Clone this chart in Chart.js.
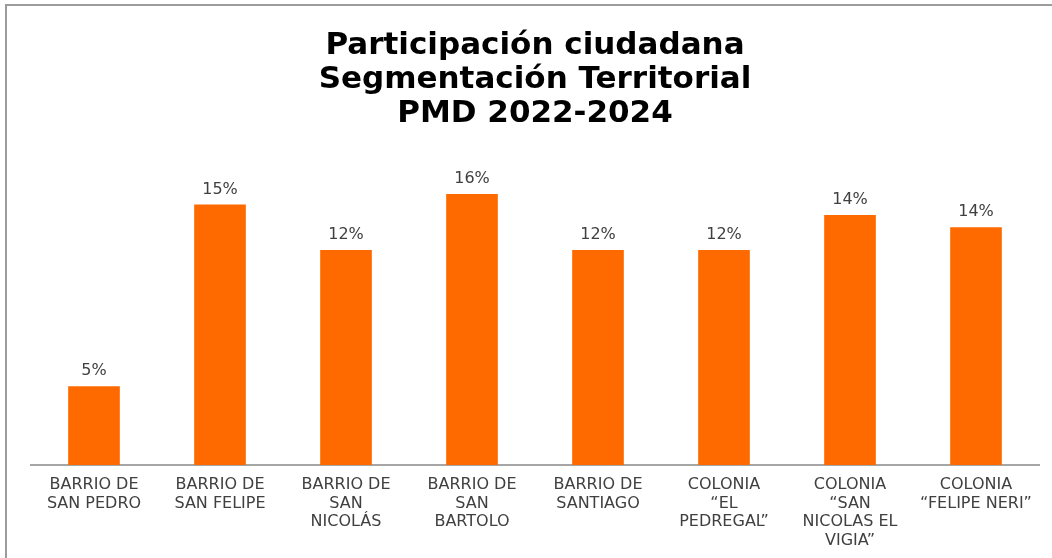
<!DOCTYPE html>
<html>
<head>
<meta charset="utf-8">
<script src="https://cdn.jsdelivr.net/npm/chart.js@4.4.0/dist/chart.umd.min.js"></script>
<style>
  html, body { margin: 0; padding: 0; background: #fff; }
  #frame {
    position: absolute; left: 5px; top: 4px;
    width: 1047px; height: 554px;
    border-left: 2px solid #9c9c9c; border-top: 2px solid #9c9c9c;
  }
  #frame canvas { display: block; }
</style>
</head>
<body>
<div id="frame"><canvas id="chart" width="1045" height="552"></canvas></div>
<script>
// === DATOS ===
const categories = [
    ['BARRIO DE', 'SAN PEDRO'],
    ['BARRIO DE', 'SAN FELIPE'],
    ['BARRIO DE', 'SAN', 'NICOLÁS'],
    ['BARRIO DE', 'SAN', 'BARTOLO'],
    ['BARRIO DE', 'SANTIAGO'],
    ['COLONIA', '“EL', 'PEDREGAL”'],
    ['COLONIA', '“SAN', 'NICOLAS EL', 'VIGIA”'],
    ['COLONIA', '“FELIPE NERI”']
];
const participation = [4.5, 14.9, 12.3, 15.5, 12.3, 12.3, 14.3, 13.6];
const titleLines = ['Participación ciudadana', 'Segmentación Territorial', 'PMD 2022-2024'];

// === ETIQUETAS SOBRE LAS BARRAS ===
const barLabels = {
    id: 'barLabels',
    afterDatasetsDraw(chart) {
        const ctx = chart.ctx;
        const meta = chart.getDatasetMeta(0);
        ctx.save();
        ctx.font = '16px "DejaVu Sans"';
        ctx.fillStyle = '#404040';
        ctx.textAlign = 'center';
        ctx.textBaseline = 'bottom';
        meta.data.forEach((bar, i) => {
            const v = chart.data.datasets[0].data[i];
            ctx.fillText(Math.round(v) + '%', bar.x, bar.y - 7);
        });
        ctx.restore();
    }
};

const ctx = document.getElementById('chart').getContext('2d');
new Chart(ctx, {
    type: 'bar',
    data: {
        labels: categories,
        datasets: [{
            data: participation,
            backgroundColor: '#FF6A00',
            categoryPercentage: 1,
            barPercentage: 0.41
        }]
    },
    options: {
        responsive: false,
        animation: false,
        layout: { padding: { left: 24, right: 13, top: 0, bottom: 0 } },
        plugins: {
            legend: { display: false },
            tooltip: { enabled: false },
            title: {
                display: true,
                text: titleLines,
                color: '#000',
                font: { family: '"DejaVu Sans"', size: 31, weight: 'bold', lineHeight: 1.1 },
                padding: { top: 23, bottom: 19 }
            }
        },
        scales: {
            y: { display: false, min: 0, max: 18 },
            x: {
                grid: { display: false, drawTicks: false },
                border: { display: true, color: '#a6a6a6', width: 2 },
                ticks: {
                    color: '#404040',
                    font: { family: '"DejaVu Sans"', size: 16, lineHeight: 1.15 },
                    padding: 11,
                    maxRotation: 0,
                    autoSkip: false
                },
                afterFit: s => { s.height = 93; }
            }
        }
    },
    plugins: [barLabels]
});
</script>
</body>
</html>
